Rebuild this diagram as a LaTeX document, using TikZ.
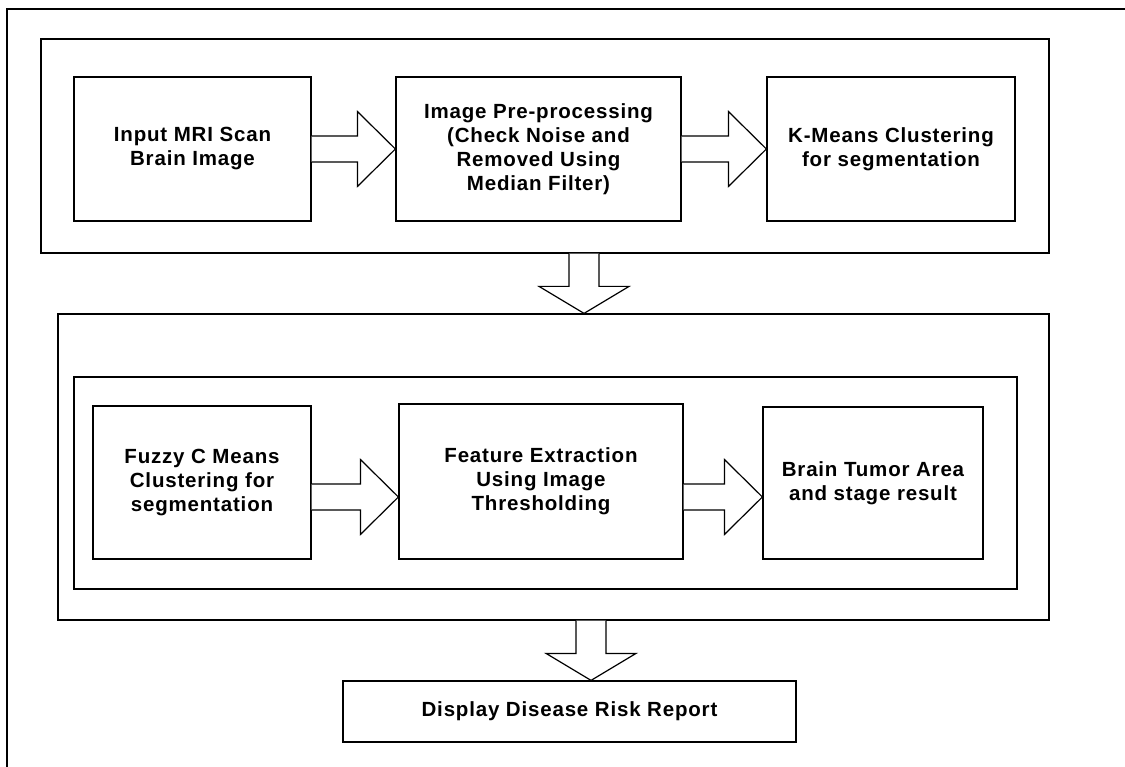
\documentclass[tikz,border=0pt]{standalone}
\usepackage{fontspec}
\setmainfont{Liberation Sans}[LetterSpace=4]
\usetikzlibrary{calc}
\tikzset{
  box/.style={draw, line width=1.2pt, rectangle, inner sep=0pt, align=center,
    font=\fontsize{20.5}{24}\selectfont\bfseries},
  grp/.style={draw, line width=1.2pt, rectangle, inner sep=0pt},
  blk/.style={draw, line width=1.2pt, line join=miter, fill=white}
}
\newcommand\harr[3]{\draw[blk] let \p1=(#1.east),\p2=(#2.west) in
  (\x1,-#3pt+13pt) -- (\x2-38pt,-#3pt+13pt) -- (\x2-38pt,-#3pt+37.5pt) -- (\x2,-#3pt)
  -- (\x2-38pt,-#3pt-37.5pt) -- (\x2-38pt,-#3pt-13pt) -- (\x1,-#3pt-13pt);}
\newcommand\varr[3]{\draw[blk] let \p1=(#1.south),\p2=(#2.north) in
  (#3pt-15pt,\y1) -- (#3pt-15pt,\y2+27pt) -- (#3pt-45pt,\y2+27pt) -- (#3pt,\y2)
  -- (#3pt+45pt,\y2+27pt) -- (#3pt+15pt,\y2+27pt) -- (#3pt+15pt,\y1);}
\begin{document}
\begin{tikzpicture}[x=1pt,y=1pt]
\useasboundingbox (0,0) rectangle (1125,-767);
\clip (0,0) rectangle (1125,-767);
\fill[white] (0,0) rectangle (1125,-767);
\draw[line width=1.2pt] (7,-790) -- (7,-9) -- (1140,-9);
% top group
\node[grp, minimum width=1008pt, minimum height=214pt] (top) at (545,-146) {};
\node[box, minimum width=237pt, minimum height=144pt] (b1) at (192.5,-149) {Input MRI Scan\\Brain Image};
\node[box, minimum width=285pt, minimum height=144pt] (b2) at (538.5,-149) {Image Pre-processing\\(Check Noise and\\Removed Using\\Median Filter)};
\node[box, minimum width=248pt, minimum height=144pt] (b3) at (891,-149) {K-Means Clustering\\for segmentation};
% bottom group
\node[grp, minimum width=991pt, minimum height=306pt] (bot) at (553.5,-467) {};
\node[grp, minimum width=943pt, minimum height=212pt] (inner) at (545.5,-483) {};
\node[box, minimum width=218pt, minimum height=153pt] (b4) at (202,-482.5) {Fuzzy C Means\\Clustering for\\segmentation};
\node[box, minimum width=284pt, minimum height=155pt] (b5) at (541,-481.5) {Feature Extraction\\Using Image\\Thresholding};
\node[box, minimum width=220pt, minimum height=152pt] (b6) at (873,-483) {Brain Tumor Area\\and stage result};
\node[box, minimum width=453pt, minimum height=61pt] (rep) at (569.5,-711.5) {Display Disease Risk Report};
% arrows
\harr{b1}{b2}{149}
\harr{b2}{b3}{149}
\harr{b4}{b5}{497}
\harr{b5}{b6}{497}
\varr{top}{bot}{584}
\varr{bot}{rep}{591}
\end{tikzpicture}
\end{document}
